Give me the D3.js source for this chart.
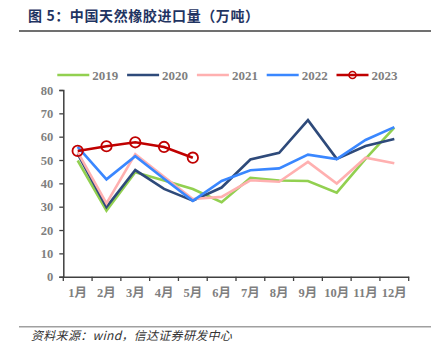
<!DOCTYPE html>
<html>
<head>
<meta charset="utf-8">
<script src="https://cdn.jsdelivr.net/npm/d3@7"></script>
<style>
  body { margin: 0; background: #fff; }
  svg { display: block; }
</style>
</head>
<body>
<svg id="chart" width="441" height="349"></svg>
<script>
// monthly import volume, 10k tons
var months = ["1月", "2月", "3月", "4月", "5月", "6月", "7月", "8月", "9月", "10月", "11月", "12月"];
var years = ["2019", "2020", "2021", "2022", "2023"];
var s2019 = [49.8, 28.3, 44.8, 41.2, 37.6, 31.9, 42.4, 41.2, 41.0, 36.0, 50.5, 63.9];
var s2020 = [52.6, 29.8, 45.7, 37.6, 32.6, 38.2, 50.2, 53.1, 67.1, 50.5, 56.0, 59.0];
var s2021 = [53.4, 31.4, 52.5, 42.8, 33.3, 34.2, 41.3, 40.7, 49.2, 39.9, 51.0, 48.6];
var s2022 = [55.6, 41.7, 51.6, 42.0, 32.5, 41.0, 45.6, 46.4, 52.3, 50.4, 58.6, 64.1];
var s2023 = [53.9, 55.9, 57.6, 55.6, 51.0];
var yTicks = [0, 10, 20, 30, 40, 50, 60, 70, 80];

var colors = ["#92d050", "#2e4a7a", "#ffb0b0", "#3a87ff", "#c00000"];
var seriesList = [s2019, s2020, s2021, s2022, s2023];

var svg = d3.select("#chart");

// title bar
svg.append("text")
    .attr("x", 28)
    .attr("y", 21)
    .attr("fill", "#1f3462")
    .style("font-family", "'Noto Sans CJK SC', sans-serif")
    .style("font-weight", "bold")
    .style("font-size", "14px")
    .style("letter-spacing", "0.6px")
    .text("图 5：中国天然橡胶进口量（万吨）");
svg.append("line")
    .attr("x1", 19).attr("x2", 431)
    .attr("y1", 31).attr("y2", 31)
    .attr("stroke", "#404040")
    .attr("stroke-width", 1.5);

var x = d3.scaleBand()
    .domain(months)
    .range([63.3, 408.7]);
var y = d3.scaleLinear()
    .domain([0, 80])
    .range([276.7, 90]);

var tickFont = "'Liberation Serif', 'Times New Roman', 'Noto Sans CJK SC', serif";

/* y axis */
var gy = svg.append("g")
    .attr("transform", "translate(63.3,0)")
    .call(d3.axisLeft(y).tickValues(yTicks).tickSize(4).tickPadding(6));
/* x axis, ticks sit at the month boundaries */
var gx = svg.append("g")
    .attr("transform", "translate(0,276.7)")
    .call(d3.axisBottom(x).tickSize(0).tickPadding(11));

[gx, gy].forEach(function(g) {
    g.select(".domain").attr("stroke", "#404040").attr("stroke-width", 1.5);
    g.selectAll(".tick line").attr("stroke", "#404040").attr("stroke-width", 1.3);
    g.selectAll(".tick text")
        .attr("fill", "#7f7f7f")
        .style("font-family", tickFont)
        .style("font-weight", "bold")
        .style("font-size", "12.5px");
});

var bounds = months.map(d => x(d)).concat([x.range()[1]]);
svg.append("g")
    .selectAll("line")
    .data(bounds)
    .join("line")
    .attr("x1", d => d).attr("x2", d => d)
    .attr("y1", 276.7).attr("y2", 281)
    .attr("stroke", "#404040")
    .attr("stroke-width", 1.3);

var line = d3.line()
    .x((d, i) => x(months[i]) + x.bandwidth() / 2)
    .y(d => y(d));

svg.append("g")
    .selectAll("path")
    .data(seriesList)
    .join("path")
    .attr("d", d => line(d))
    .attr("fill", "none")
    .attr("stroke", (d, i) => colors[i])
    .attr("stroke-width", 2.6)
    .attr("stroke-linejoin", "miter");

svg.append("g")
    .selectAll("circle")
    .data(s2023)
    .join("circle")
    .attr("cx", (d, i) => x(months[i]) + x.bandwidth() / 2)
    .attr("cy", d => y(d))
    .attr("r", 5.2)
    .attr("fill", "none")
    .attr("stroke", colors[4])
    .attr("stroke-width", 1.8);

// legend
var legend = svg.append("g")
    .selectAll("g")
    .data(years)
    .join("g")
    .attr("transform", (d, i) => "translate(" + (57.3 + i * 69.8) + ",75)");
legend.append("line")
    .attr("x1", 0).attr("x2", 32)
    .attr("stroke", (d, i) => colors[i])
    .attr("stroke-width", 2.6);
legend.filter(d => d == "2023")
    .append("circle")
    .attr("cx", 16).attr("r", 3.5)
    .attr("fill", "none")
    .attr("stroke", colors[4])
    .attr("stroke-width", 1.6);
legend.append("text")
    .attr("x", 35)
    .attr("y", 4.5)
    .attr("fill", "#7f7f7f")
    .style("font-family", tickFont)
    .style("font-weight", "bold")
    .style("font-size", "13px")
    .text(d => d);

// source note
svg.append("line")
    .attr("x1", 19).attr("x2", 431)
    .attr("y1", 326.7).attr("y2", 326.7)
    .attr("stroke", "#a0a0a0")
    .attr("stroke-width", 1.5);
svg.append("text")
    .attr("x", 31)
    .attr("y", 339.5)
    .attr("fill", "#333")
    .style("font-family", "'Noto Sans CJK SC', sans-serif")
    .style("font-style", "italic")
    .style("font-size", "12px")
    .style("letter-spacing", "0.3px")
    .text("资料来源：wind，信达证券研发中心");
</script>
</body>
</html>
